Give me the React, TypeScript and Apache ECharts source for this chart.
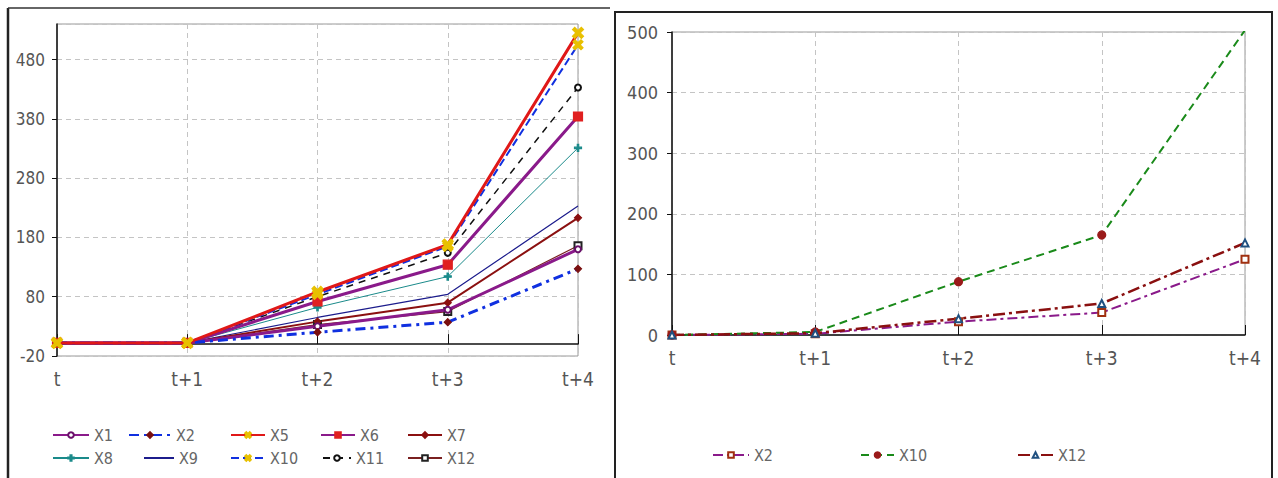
import React, { useEffect, useRef } from "react";
import * as echarts from "echarts";

const categories = ["t", "t+1", "t+2", "t+3", "t+4"];

// Left chart series
const X1 = [2, 2, 30, 58, 160];
const X2 = [2, 2, 20, 37, 127];
const X5 = [2, 2, 88, 168, 525];
const X6 = [2, 2, 72, 134, 384];
const X7 = [2, 2, 38, 70, 213];
const X8 = [2, 2, 62, 114, 331];
const X9 = [2, 2, 45, 84, 233];
const X10 = [2, 2, 84, 165, 505];
const X11 = [2, 2, 80, 154, 433];
const X12 = [2, 2, 33, 55, 166];

// Right chart series
const R_X2 = [0, 2, 22, 37, 125];
const R_X10 = [0, 5, 88, 165, 503];
const R_X12 = [0, 3, 27, 52, 152];

const FONT = "'DejaVu Sans Condensed', 'Liberation Sans Narrow', sans-serif";
const CROSS = "path://M0,2 L2,0 L5,3 L8,0 L10,2 L7,5 L10,8 L8,10 L5,7 L2,10 L0,8 L3,5 Z";

export default function App() {
  const ref = useRef<HTMLDivElement>(null);
  useEffect(() => {
    document.body.style.margin = "0";
    const chart = echarts.init(ref.current!, null, { renderer: "svg" });

    const grid0 = { left: 57, top: 24, width: 521, height: 332 };
    const grid1 = { left: 672, top: 32, width: 573, height: 303 };

    const gridLine = { show: true, lineStyle: { color: "#c4c4c4", type: [5, 4], width: 1 } };
    const labelStyle = { color: "#555", fontFamily: FONT };

    const line = (
      name: string, data: number[], color: string, width: number, type: any,
      symbol: string, symbolSize: number, symColor: string, axis: number, z = 2
    ) => ({
      name, type: "line", data, xAxisIndex: axis, yAxisIndex: axis,
      symbol, symbolSize, showSymbol: symbol !== "none", z,
      lineStyle: { color, width, type },
      itemStyle: { color: symColor, borderColor: symColor, borderWidth: 1.2 },
    });

    const legendItem = (name: string, left: number, top: number, w: number, hideIcon = false) => ({
      data: [name], left, top, itemWidth: w, itemHeight: 7, padding: 0,
      textStyle: { color: "#666", fontSize: 16, fontFamily: FONT },
      selectedMode: false,
      ...(hideIcon ? { itemStyle: { opacity: 0 } } : {}),
    });

    const option: any = {
      animation: false,
      backgroundColor: "#fff",
      grid: [
        { ...grid0, show: true, borderColor: "#999", borderWidth: 1 },
        { ...grid1, show: true, borderColor: "#999", borderWidth: 1 },
      ],
      xAxis: [
        {
          gridIndex: 0, type: "category", data: categories, boundaryGap: false,
          axisLine: { onZero: true, lineStyle: { color: "#111", width: 1.5 } },
          axisTick: { show: true, inside: true, length: 10, lineStyle: { color: "#111" } },
          axisLabel: { ...labelStyle, fontSize: 19, margin: 13 },
          splitLine: gridLine,
        },
        {
          gridIndex: 1, type: "category", data: categories, boundaryGap: false,
          axisLine: { onZero: true, lineStyle: { color: "#111", width: 1.5 } },
          axisTick: { show: true, inside: true, length: 10, lineStyle: { color: "#111" } },
          axisLabel: { ...labelStyle, fontSize: 19, margin: 13 },
          splitLine: gridLine,
        },
      ],
      yAxis: [
        {
          gridIndex: 0, type: "value", min: -20, max: 540, interval: 100,
          axisLine: { show: true, lineStyle: { color: "#111", width: 1.5 } },
          axisTick: { show: true, length: 5, lineStyle: { color: "#111" } },
          axisLabel: { ...labelStyle, fontSize: 17, margin: 12, showMaxLabel: false },
          splitLine: gridLine,
        },
        {
          gridIndex: 1, type: "value", min: 0, max: 500, interval: 100,
          axisLine: { show: true, lineStyle: { color: "#111", width: 1.5 } },
          axisTick: { show: true, length: 5, lineStyle: { color: "#111" } },
          axisLabel: { ...labelStyle, fontSize: 18, margin: 14 },
          splitLine: gridLine,
        },
      ],
      legend: [
        legendItem("X1", 52, 427, 36),
        legendItem("X2", 128, 427, 42),
        legendItem("X5", 230, 427, 34),
        legendItem("X6", 320, 427, 34),
        legendItem("X7", 407, 427, 34),
        legendItem("X8", 52, 450, 36),
        legendItem("X9", 143, 450, 30, true),
        legendItem("X10", 230, 450, 34),
        legendItem("X11", 322, 450, 28),
        legendItem("X12", 407, 450, 34),
        legendItem("X2 ", 712, 447, 36),
        legendItem("X10 ", 860, 447, 33),
        legendItem("X12 ", 1017, 447, 35),
      ],
      series: [
        line("X8", X8, "#1a8a8a", 1, "solid", "path://M4,0 L6,0 L6,4 L10,4 L10,6 L6,6 L6,10 L4,10 L4,6 L0,6 L0,4 L4,4 Z", 7, "#1a8a8a", 0),
        line("X9", X9, "#1c1c8c", 1.2, "solid", "none", 4, "#1c1c8c", 0),
        line("X12", X12, "#7a2020", 1.2, "solid", "emptyRect", 7, "#222", 0),
        line("X7", X7, "#8b1010", 2, "solid", "diamond", 7, "#8b1010", 0),
        line("X11", X11, "#111", 1.5, [7, 6], "emptyCircle", 6, "#111", 0),
        line("X6", X6, "#8a1a8a", 3, "solid", "rect", 9, "#e02020", 0, 3),
        line("X1", X1, "#8a1a8a", 3, "solid", "emptyCircle", 6, "#6a106a", 0, 3),
        line("X2", X2, "#1030e0", 3, [10, 5, 3, 5], "diamond", 7, "#7a1010", 0, 3),
        line("X10", X10, "#1030e0", 2, [8, 4], CROSS, 10, "#e8c000", 0, 4),
        line("X5", X5, "#e01818", 3, "solid", CROSS, 11, "#e8c000", 0, 4),

        line("X2 ", R_X2, "#8a1a8a", 2, [10, 4, 3, 4], "emptyRect", 7, "#a03010", 1),
        line("X10 ", R_X10, "#1a8a1a", 2, [8, 5], "circle", 8, "#9a1a1a", 1),
        line("X12 ", R_X12, "#8a1010", 2.5, [12, 4, 3, 4], "emptyTriangle", 7, "#205080", 1),
      ],
      graphic: [
        { type: "line", shape: { x1: 8, y1: 8, x2: 8, y2: 480 }, style: { stroke: "#222", lineWidth: 2.5 } },
        { type: "line", shape: { x1: 8, y1: 8, x2: 610, y2: 8 }, style: { stroke: "#333", lineWidth: 1.5 } },
        { type: "rect", shape: { x: 615, y: 12, width: 657, height: 480 }, style: { fill: "none", stroke: "#222", lineWidth: 2 } },
      ],
    };
    chart.setOption(option);
    return () => chart.dispose();
  }, []);
  return <div ref={ref} style={{ width: 1278, height: 478, position: "fixed", left: 0, top: 0 }} />;
}
